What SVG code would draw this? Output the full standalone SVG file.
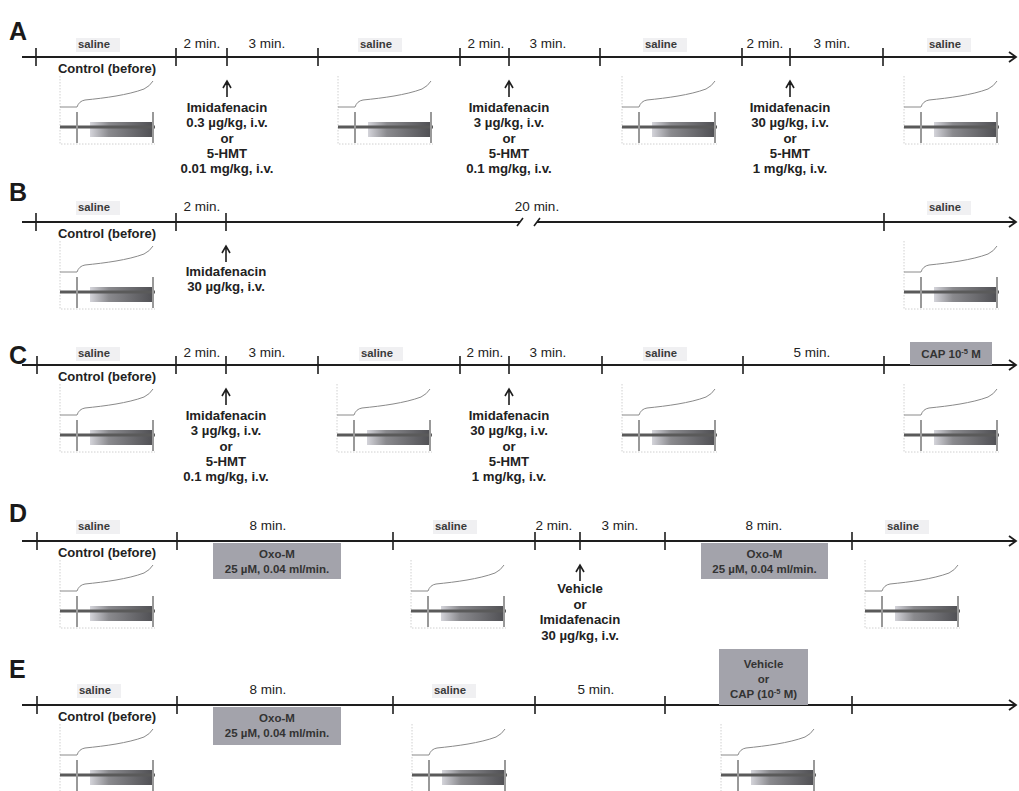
<svg xmlns="http://www.w3.org/2000/svg" xmlns:xlink="http://www.w3.org/1999/xlink" width="1019" height="791" viewBox="0 0 1019 791">
<style>
text{font-family:"Liberation Sans",Arial,Helvetica,sans-serif;fill:#222;text-anchor:middle}
.panel{font-size:25px;font-weight:bold;text-anchor:start;fill:#1a1a1a}
.min{font-size:13.5px}
.sal{font-size:11.3px;font-weight:bold;fill:#3a3a3a}
.ctl{font-size:13px;font-weight:bold}
.drug{font-size:13.2px;font-weight:bold}
.boxt{font-size:11.5px;font-weight:bold;fill:#333}
.box{fill:#a3a3ab}
.cloud{fill:#f0f0f2}
.axis{stroke:#1e1e1e;stroke-width:1.8;fill:none}
.tick{stroke:#1e1e1e;stroke-width:1.6;fill:none}
.up{stroke:#1e1e1e;stroke-width:1.6;fill:none}
</style>
<defs>
<linearGradient id="band" x1="0" y1="0" x2="1" y2="0">
<stop offset="0" stop-color="#d4d4da"/>
<stop offset="0.3" stop-color="#8a8a8e"/>
<stop offset="1" stop-color="#505054"/>
</linearGradient>
<g id="trace">
<path d="M0,19 V87 H95" stroke="#d0d0d0" stroke-width="1" stroke-dasharray="1.5 1.5" fill="none"/>
<path d="M0,50 H17 Q19,44 25,43 C45,41 68,38 84,32 Q90,29 93,24" stroke="#8a8a8a" stroke-width="1" fill="none"/>
<rect x="30" y="65" width="63" height="15" fill="url(#band)"/>
<line x1="0" y1="70" x2="95" y2="70" stroke="#5a5a5a" stroke-width="3.2"/>
<line x1="17" y1="55" x2="17" y2="86" stroke="#999" stroke-width="2"/>
<line x1="93" y1="55" x2="93" y2="86" stroke="#999" stroke-width="2"/>
</g>
</defs>
<rect width="1019" height="791" fill="#fff"/>

<g id="connectors">
<path class="axis" d="M22,57 H1016 M1009,52 L1016,57 L1009,62"/>
<path class="tick" d="M36,48 V66 M176,48 V66 M227,48 V66 M318,48 V66 M460,48 V66 M509,48 V66 M600,48 V66 M742,48 V66 M790,48 V66 M883,48 V66"/>
<path class="up" d="M227,97 V81 M223,88 L227,81 L231,88 M509,97 V81 M505,88 L509,81 L513,88 M790,97 V81 M786,88 L790,81 L794,88"/>
<path class="axis" d="M22,222 H520 M537,222 H1016 M1009,217 L1016,222 L1009,227"/>
<path class="tick" d="M517,226 L523,218 M534,226 L540,218"/>
<path class="tick" d="M36,213 V231 M176,213 V231 M226,213 V231 M884,213 V231"/>
<path class="up" d="M226,262 V246 M222,253 L226,246 L230,253"/>
<path class="axis" d="M22,365 H1016 M1009,360 L1016,365 L1009,370"/>
<path class="tick" d="M37,356 V374 M176,356 V374 M226,356 V374 M318,356 V374 M460,356 V374 M509,356 V374 M602,356 V374 M743,356 V374 M884,356 V374"/>
<path class="up" d="M226,405 V389 M222,396 L226,389 L230,396 M509,405 V389 M505,396 L509,389 L513,396"/>
<path class="axis" d="M22,541 H1016 M1009,536 L1016,541 L1009,546"/>
<path class="tick" d="M37,532 V550 M177,532 V550 M393,532 V550 M535,532 V550 M580,532 V550 M665,532 V550 M852,532 V550"/>
<path class="up" d="M580,581 V565 M576,572 L580,565 L584,572"/>
<path class="axis" d="M22,705 H1016 M1009,700 L1016,705 L1009,710"/>
<path class="tick" d="M37,696 V714 M177,696 V714 M393,696 V714 M535,696 V714 M665,696 V714 M852,696 V714"/>
</g>

<g id="panelA">
<text class="panel" x="9" y="40">A</text>
<rect class="cloud" x="76" y="38" width="44" height="14"/>
<rect class="cloud" x="358" y="38" width="44" height="14"/>
<rect class="cloud" x="643" y="38" width="44" height="14"/>
<rect class="cloud" x="927" y="38" width="44" height="14"/>
<text class="sal" x="94" y="48">saline</text>
<text class="sal" x="376" y="48">saline</text>
<text class="sal" x="661" y="48">saline</text>
<text class="sal" x="945" y="48">saline</text>
<text class="min" x="202" y="48">2 min.</text>
<text class="min" x="486" y="48">2 min.</text>
<text class="min" x="765" y="48">2 min.</text>
<text class="min" x="267" y="48">3 min.</text>
<text class="min" x="548" y="48">3 min.</text>
<text class="min" x="832" y="48">3 min.</text>
<text class="ctl" x="107" y="73">Control (before)</text>
<text class="drug" x="227" y="112"><tspan x="227">Imidafenacin</tspan><tspan x="227" dy="15.3">0.3 µg/kg, i.v.</tspan><tspan x="227" dy="15.3">or</tspan><tspan x="227" dy="15.3">5-HMT</tspan><tspan x="227" dy="15.3">0.01 mg/kg, i.v.</tspan></text>
<text class="drug" x="509" y="112"><tspan x="509">Imidafenacin</tspan><tspan x="509" dy="15.3">3 µg/kg, i.v.</tspan><tspan x="509" dy="15.3">or</tspan><tspan x="509" dy="15.3">5-HMT</tspan><tspan x="509" dy="15.3">0.1 mg/kg, i.v.</tspan></text>
<text class="drug" x="790" y="112"><tspan x="790">Imidafenacin</tspan><tspan x="790" dy="15.3">30 µg/kg, i.v.</tspan><tspan x="790" dy="15.3">or</tspan><tspan x="790" dy="15.3">5-HMT</tspan><tspan x="790" dy="15.3">1 mg/kg, i.v.</tspan></text>
<use xlink:href="#trace" href="#trace" x="60" y="57"/>
<use xlink:href="#trace" href="#trace" x="338" y="57"/>
<use xlink:href="#trace" href="#trace" x="622" y="57"/>
<use xlink:href="#trace" href="#trace" x="904" y="57"/>
</g>

<g id="panelB">
<text class="panel" x="9" y="201">B</text>
<rect class="cloud" x="76" y="201" width="44" height="14"/>
<rect class="cloud" x="927" y="201" width="44" height="14"/>
<text class="sal" x="94" y="211">saline</text>
<text class="sal" x="945" y="211">saline</text>
<text class="min" x="202" y="211">2 min.</text>
<text class="min" x="537" y="211">20 min.</text>
<text class="ctl" x="107" y="238">Control (before)</text>
<text class="drug" x="226" y="276"><tspan x="226">Imidafenacin</tspan><tspan x="226" dy="15.3">30 µg/kg, i.v.</tspan></text>
<use xlink:href="#trace" href="#trace" x="60" y="222"/>
<use xlink:href="#trace" href="#trace" x="904" y="222"/>
</g>

<g id="panelC">
<text class="panel" x="9" y="364">C</text>
<rect class="cloud" x="76" y="347" width="44" height="14"/>
<rect class="cloud" x="359" y="347" width="44" height="14"/>
<rect class="cloud" x="643" y="347" width="44" height="14"/>
<text class="sal" x="94" y="357">saline</text>
<text class="sal" x="377" y="357">saline</text>
<text class="sal" x="661" y="357">saline</text>
<text class="min" x="202" y="357">2 min.</text>
<text class="min" x="485" y="357">2 min.</text>
<text class="min" x="267" y="357">3 min.</text>
<text class="min" x="548" y="357">3 min.</text>
<text class="min" x="812" y="357">5 min.</text>
<g id="capC">
<rect class="box" x="910" y="342" width="82" height="23"/>
<text class="boxt" x="951" y="358"><tspan>CAP 10</tspan><tspan font-size="7.5" dy="-4">-5</tspan><tspan dy="4"> M</tspan></text>
</g>
<text class="ctl" x="107" y="381">Control (before)</text>
<text class="drug" x="226" y="420"><tspan x="226">Imidafenacin</tspan><tspan x="226" dy="15.3">3 µg/kg, i.v.</tspan><tspan x="226" dy="15.3">or</tspan><tspan x="226" dy="15.3">5-HMT</tspan><tspan x="226" dy="15.3">0.1 mg/kg, i.v.</tspan></text>
<text class="drug" x="509" y="420"><tspan x="509">Imidafenacin</tspan><tspan x="509" dy="15.3">30 µg/kg, i.v.</tspan><tspan x="509" dy="15.3">or</tspan><tspan x="509" dy="15.3">5-HMT</tspan><tspan x="509" dy="15.3">1 mg/kg, i.v.</tspan></text>
<use xlink:href="#trace" href="#trace" x="60" y="365"/>
<use xlink:href="#trace" href="#trace" x="337" y="365"/>
<use xlink:href="#trace" href="#trace" x="622" y="365"/>
<use xlink:href="#trace" href="#trace" x="904" y="365"/>
</g>

<g id="panelD">
<text class="panel" x="9" y="522">D</text>
<rect class="cloud" x="76" y="520" width="44" height="14"/>
<rect class="cloud" x="433" y="520" width="44" height="14"/>
<rect class="cloud" x="885" y="520" width="44" height="14"/>
<text class="sal" x="94" y="530">saline</text>
<text class="sal" x="451" y="530">saline</text>
<text class="sal" x="903" y="530">saline</text>
<text class="min" x="268" y="530">8 min.</text>
<text class="min" x="764" y="530">8 min.</text>
<text class="min" x="554" y="530">2 min.</text>
<text class="min" x="620" y="530">3 min.</text>
<g id="oxoD1">
<rect class="box" x="213" y="543" width="128" height="36"/>
<text class="boxt" x="277" y="558"><tspan x="277">Oxo-M</tspan><tspan x="277" dy="15">25 µM, 0.04 ml/min.</tspan></text>
</g>
<g id="oxoD2">
<rect class="box" x="701" y="543" width="127" height="36"/>
<text class="boxt" x="764.5" y="558"><tspan x="764.5">Oxo-M</tspan><tspan x="764.5" dy="15">25 µM, 0.04 ml/min.</tspan></text>
</g>
<text class="ctl" x="107" y="557">Control (before)</text>
<text class="drug" x="580" y="593"><tspan x="580">Vehicle</tspan><tspan x="580" dy="15.5">or</tspan><tspan x="580" dy="15.5">Imidafenacin</tspan><tspan x="580" dy="15.5">30 µg/kg, i.v.</tspan></text>
<use xlink:href="#trace" href="#trace" x="60" y="541"/>
<use xlink:href="#trace" href="#trace" x="411" y="541"/>
<use xlink:href="#trace" href="#trace" x="865" y="541"/>
</g>

<g id="panelE">
<text class="panel" x="9" y="678">E</text>
<rect class="cloud" x="77" y="684" width="44" height="14"/>
<rect class="cloud" x="432" y="684" width="44" height="14"/>
<text class="sal" x="95" y="694">saline</text>
<text class="sal" x="450" y="694">saline</text>
<text class="min" x="268" y="694">8 min.</text>
<text class="min" x="596" y="694">5 min.</text>
<g id="vehE">
<rect class="box" x="719" y="649" width="89" height="56"/>
<text class="boxt" x="763.5" y="668"><tspan x="763.5">Vehicle</tspan><tspan x="763.5" dy="14.5">or</tspan><tspan x="763.5" dy="15.5">CAP (10</tspan><tspan font-size="7.5" dy="-4">-5</tspan><tspan dy="4"> M)</tspan></text>
</g>
<g id="oxoE">
<rect class="box" x="213" y="707" width="128" height="38"/>
<text class="boxt" x="277" y="722"><tspan x="277">Oxo-M</tspan><tspan x="277" dy="15">25 µM, 0.04 ml/min.</tspan></text>
</g>
<text class="ctl" x="107" y="721">Control (before)</text>
<use xlink:href="#trace" href="#trace" x="60" y="705"/>
<use xlink:href="#trace" href="#trace" x="412" y="705"/>
<use xlink:href="#trace" href="#trace" x="721" y="705"/>
</g>
</svg>
